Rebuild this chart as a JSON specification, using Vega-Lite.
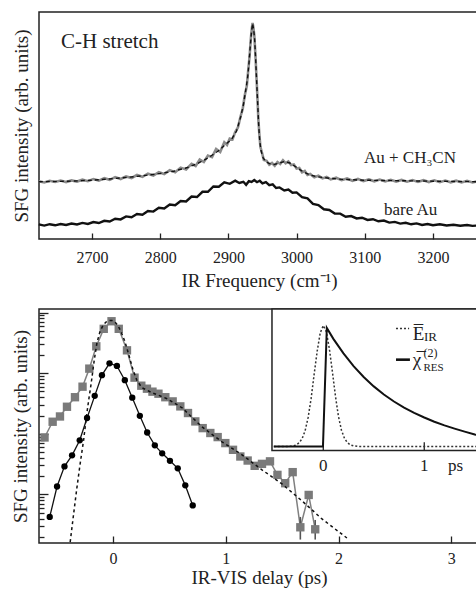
{
  "$schema": "https://vega.github.io/schema/vega-lite/v6.json",
  "background": "white",
  "padding": {"left": 10, "top": 11, "right": 0, "bottom": 0},
  "bounds": "flush",
  "spacing": 70,
  "config": {
    "font": "Liberation Serif",
    "view": {"stroke": "#222", "strokeWidth": 1.5},
    "axis": {
      "domain": false, "grid": false,
      "labelFont": "Liberation Serif", "titleFont": "Liberation Serif",
      "labelFontSize": 16, "titleFontSize": 19, "titleFontWeight": "normal",
      "labelColor": "#222", "titleColor": "#222", "tickColor": "#222", "tickWidth": 1.3
    },
    "text": {"font": "Liberation Serif", "color": "#222"}
  },
  "datasets": {
    "au_ch3cn": [
      {"freq":2622,"sfg":57.8},{"freq":2630,"sfg":56.6},{"freq":2638,"sfg":58.2},{"freq":2646,"sfg":57.0},{"freq":2654,"sfg":58.4},{"freq":2662,"sfg":56.9},{"freq":2670,"sfg":58.6},{"freq":2678,"sfg":57.4},{"freq":2686,"sfg":59.3},{"freq":2694,"sfg":57.8},{"freq":2702,"sfg":59.9},{"freq":2710,"sfg":58.4},{"freq":2718,"sfg":60.8},{"freq":2726,"sfg":59.2},{"freq":2734,"sfg":61.9},{"freq":2742,"sfg":60.0},{"freq":2750,"sfg":62.6},{"freq":2758,"sfg":61.0},{"freq":2766,"sfg":64.0},{"freq":2774,"sfg":62.2},{"freq":2782,"sfg":65.3},{"freq":2790,"sfg":63.4},{"freq":2798,"sfg":66.8},{"freq":2806,"sfg":65.0},{"freq":2814,"sfg":68.9},{"freq":2822,"sfg":66.8},{"freq":2830,"sfg":71.4},{"freq":2838,"sfg":69.6},{"freq":2846,"sfg":75.2},{"freq":2852,"sfg":73.0},{"freq":2858,"sfg":79.5},{"freq":2864,"sfg":77.0},{"freq":2870,"sfg":83.5},{"freq":2876,"sfg":81.8},{"freq":2882,"sfg":90.0},{"freq":2888,"sfg":87.0},{"freq":2894,"sfg":96.8},{"freq":2898,"sfg":94.0},{"freq":2902,"sfg":100.5},{"freq":2906,"sfg":99.6},{"freq":2910,"sfg":107.0},{"freq":2914,"sfg":111.5},{"freq":2918,"sfg":123},{"freq":2921,"sfg":130},{"freq":2924,"sfg":143.5},{"freq":2927,"sfg":153},{"freq":2929,"sfg":168},{"freq":2931,"sfg":182},{"freq":2933,"sfg":201},{"freq":2934.5,"sfg":211},{"freq":2935.5,"sfg":216},{"freq":2936.5,"sfg":212},{"freq":2938,"sfg":204},{"freq":2939.5,"sfg":186},{"freq":2941,"sfg":165},{"freq":2942.5,"sfg":143},{"freq":2944,"sfg":119},{"freq":2945.5,"sfg":104},{"freq":2947,"sfg":92},{"freq":2949,"sfg":87},{"freq":2952,"sfg":79},{"freq":2956,"sfg":78.2},{"freq":2960,"sfg":74.2},{"freq":2964,"sfg":76.0},{"freq":2968,"sfg":73.2},{"freq":2972,"sfg":77.0},{"freq":2976,"sfg":75.0},{"freq":2980,"sfg":78.8},{"freq":2984,"sfg":75.8},{"freq":2988,"sfg":77.5},{"freq":2992,"sfg":74.0},{"freq":2996,"sfg":74.6},{"freq":3000,"sfg":70.4},{"freq":3004,"sfg":71.0},{"freq":3008,"sfg":66.7},{"freq":3012,"sfg":68.0},{"freq":3016,"sfg":64.0},{"freq":3020,"sfg":65.0},{"freq":3026,"sfg":61.8},{"freq":3032,"sfg":63.2},{"freq":3038,"sfg":60.6},{"freq":3044,"sfg":62.0},{"freq":3050,"sfg":59.6},{"freq":3058,"sfg":61.3},{"freq":3066,"sfg":58.8},{"freq":3074,"sfg":60.5},{"freq":3082,"sfg":58.2},{"freq":3090,"sfg":60.0},{"freq":3098,"sfg":57.9},{"freq":3106,"sfg":59.6},{"freq":3114,"sfg":57.7},{"freq":3122,"sfg":59.5},{"freq":3130,"sfg":57.6},{"freq":3138,"sfg":59.2},{"freq":3146,"sfg":57.4},{"freq":3154,"sfg":59.1},{"freq":3162,"sfg":57.3},{"freq":3170,"sfg":58.9},{"freq":3178,"sfg":57.0},{"freq":3186,"sfg":58.8},{"freq":3194,"sfg":56.9},{"freq":3202,"sfg":58.7},{"freq":3210,"sfg":56.8},{"freq":3218,"sfg":58.5},{"freq":3226,"sfg":56.7},{"freq":3234,"sfg":58.3},{"freq":3242,"sfg":56.6},{"freq":3250,"sfg":58.2},{"freq":3258,"sfg":56.6},{"freq":3266,"sfg":57.8}
    ],
    "au_ch3cn_fit": [
      {"freq":2622,"sfg":57.3},{"freq":2650,"sfg":57.6},{"freq":2675,"sfg":58},{"freq":2700,"sfg":58.8},{"freq":2725,"sfg":60},{"freq":2750,"sfg":61.5},{"freq":2775,"sfg":63.3},{"freq":2800,"sfg":65.5},{"freq":2820,"sfg":67.8},{"freq":2840,"sfg":71.5},{"freq":2855,"sfg":75.5},{"freq":2870,"sfg":81},{"freq":2885,"sfg":88},{"freq":2895,"sfg":94},{"freq":2905,"sfg":100},{"freq":2912,"sfg":108},{"freq":2918,"sfg":122},{"freq":2922,"sfg":134},{"freq":2925,"sfg":147},{"freq":2928,"sfg":160},{"freq":2930,"sfg":174},{"freq":2932,"sfg":192},{"freq":2934,"sfg":208},{"freq":2935.5,"sfg":215.5},{"freq":2937,"sfg":210},{"freq":2938.5,"sfg":200},{"freq":2940,"sfg":180},{"freq":2941.5,"sfg":157},{"freq":2943,"sfg":135},{"freq":2944.5,"sfg":113},{"freq":2946,"sfg":98},{"freq":2948,"sfg":88},{"freq":2951,"sfg":81},{"freq":2955,"sfg":77.5},{"freq":2960,"sfg":75.5},{"freq":2967,"sfg":74.5},{"freq":2975,"sfg":76},{"freq":2982,"sfg":77.5},{"freq":2990,"sfg":76},{"freq":2998,"sfg":72.5},{"freq":3009,"sfg":67.5},{"freq":3020,"sfg":64},{"freq":3030,"sfg":62.3},{"freq":3048,"sfg":60.7},{"freq":3070,"sfg":59.5},{"freq":3100,"sfg":58.8},{"freq":3150,"sfg":58.3},{"freq":3200,"sfg":57.8},{"freq":3266,"sfg":57.3}
    ],
    "bare_au": [
      {"freq":2622,"sfg":14.6},{"freq":2630,"sfg":13.4},{"freq":2638,"sfg":14.8},{"freq":2646,"sfg":13.7},{"freq":2654,"sfg":15.0},{"freq":2662,"sfg":14.0},{"freq":2670,"sfg":15.4},{"freq":2678,"sfg":14.5},{"freq":2686,"sfg":16.1},{"freq":2694,"sfg":15.0},{"freq":2702,"sfg":16.9},{"freq":2710,"sfg":16.0},{"freq":2718,"sfg":18.2},{"freq":2726,"sfg":17.5},{"freq":2734,"sfg":20.3},{"freq":2742,"sfg":19.6},{"freq":2750,"sfg":22.6},{"freq":2758,"sfg":21.8},{"freq":2766,"sfg":25.0},{"freq":2774,"sfg":24.3},{"freq":2782,"sfg":28.0},{"freq":2790,"sfg":27.4},{"freq":2798,"sfg":31.2},{"freq":2806,"sfg":30.6},{"freq":2814,"sfg":34.5},{"freq":2822,"sfg":33.7},{"freq":2830,"sfg":38.0},{"freq":2838,"sfg":37.6},{"freq":2846,"sfg":42.5},{"freq":2854,"sfg":42.0},{"freq":2862,"sfg":47.2},{"freq":2870,"sfg":47.2},{"freq":2878,"sfg":52.5},{"freq":2886,"sfg":52.2},{"freq":2894,"sfg":56.6},{"freq":2902,"sfg":55.2},{"freq":2910,"sfg":58.4},{"freq":2916,"sfg":56.0},{"freq":2922,"sfg":57.2},{"freq":2926,"sfg":54.2},{"freq":2930,"sfg":57.8},{"freq":2934,"sfg":57.0},{"freq":2938,"sfg":58.9},{"freq":2942,"sfg":56.8},{"freq":2946,"sfg":58.2},{"freq":2950,"sfg":55.6},{"freq":2955,"sfg":56.8},{"freq":2960,"sfg":53.8},{"freq":2965,"sfg":54.6},{"freq":2970,"sfg":51.0},{"freq":2975,"sfg":51.6},{"freq":2982,"sfg":48.6},{"freq":2988,"sfg":49.4},{"freq":2994,"sfg":46.2},{"freq":3000,"sfg":46.6},{"freq":3008,"sfg":41.8},{"freq":3016,"sfg":40.6},{"freq":3024,"sfg":35.2},{"freq":3032,"sfg":34.0},{"freq":3040,"sfg":29.7},{"freq":3048,"sfg":29.0},{"freq":3056,"sfg":25.4},{"freq":3064,"sfg":25.4},{"freq":3072,"sfg":22.3},{"freq":3080,"sfg":22.9},{"freq":3088,"sfg":20.6},{"freq":3096,"sfg":21.3},{"freq":3104,"sfg":19.1},{"freq":3112,"sfg":19.8},{"freq":3120,"sfg":17.7},{"freq":3128,"sfg":18.4},{"freq":3136,"sfg":16.4},{"freq":3144,"sfg":17.1},{"freq":3152,"sfg":15.4},{"freq":3160,"sfg":16.2},{"freq":3168,"sfg":14.7},{"freq":3176,"sfg":15.6},{"freq":3184,"sfg":14.1},{"freq":3192,"sfg":15.0},{"freq":3200,"sfg":13.8},{"freq":3210,"sfg":14.7},{"freq":3220,"sfg":13.5},{"freq":3230,"sfg":14.3},{"freq":3240,"sfg":13.3},{"freq":3250,"sfg":14.0},{"freq":3258,"sfg":13.1},{"freq":3266,"sfg":13.6}
    ],
    "delay_ch3cn": [
      {"delay":-0.607,"sfg":8.69},{"delay":-0.535,"sfg":15.8},{"delay":-0.470,"sfg":19.3},{"delay":-0.408,"sfg":27.9},{"delay":-0.337,"sfg":40.1},{"delay":-0.270,"sfg":59.8},{"delay":-0.210,"sfg":118.7},{"delay":-0.148,"sfg":277},{"delay":-0.082,"sfg":538},{"delay":-0.013,"sfg":718},{"delay":0.051,"sfg":538},{"delay":0.124,"sfg":238},{"delay":0.191,"sfg":84.3},{"delay":0.251,"sfg":62.1},{"delay":0.301,"sfg":55.4},{"delay":0.350,"sfg":49.5},{"delay":0.403,"sfg":45.8},{"delay":0.464,"sfg":40.1},{"delay":0.529,"sfg":34.2},{"delay":0.597,"sfg":28.3},{"delay":0.665,"sfg":22.0},{"delay":0.730,"sfg":16.0},{"delay":0.795,"sfg":12.4},{"delay":0.863,"sfg":10.3},{"delay":0.928,"sfg":8.82},{"delay":0.996,"sfg":7.02},{"delay":1.064,"sfg":5.44},{"delay":1.129,"sfg":4.22},{"delay":1.194,"sfg":3.62},{"delay":1.256,"sfg":2.96},{"delay":1.321,"sfg":3.19},{"delay":1.392,"sfg":3.51},{"delay":1.458,"sfg":2.10},{"delay":1.527,"sfg":1.53},{"delay":1.593,"sfg":2.33},{"delay":1.661,"sfg":0.287,"lo":0.180,"hi":0.425},{"delay":1.735,"sfg":0.98},{"delay":1.793,"sfg":0.266,"lo":0.180,"hi":0.379}
    ],
    "delay_bare": [
      {"delay":-0.561,"sfg":0.425},{"delay":-0.496,"sfg":1.35},{"delay":-0.430,"sfg":2.90},{"delay":-0.363,"sfg":4.41},{"delay":-0.295,"sfg":7.81},{"delay":-0.230,"sfg":18.2},{"delay":-0.162,"sfg":42.2},{"delay":-0.098,"sfg":92.7},{"delay":-0.031,"sfg":145},{"delay":0.035,"sfg":131.5},{"delay":0.105,"sfg":76.6},{"delay":0.171,"sfg":39.4},{"delay":0.238,"sfg":19.8},{"delay":0.303,"sfg":10.5},{"delay":0.371,"sfg":6.45},{"delay":0.436,"sfg":4.76},{"delay":0.505,"sfg":3.58},{"delay":0.574,"sfg":2.69},{"delay":0.641,"sfg":1.41},{"delay":0.707,"sfg":0.658}
    ],
    "delay_fit": [
      {"delay":-0.386,"sfg":0.1305},{"delay":-0.348,"sfg":0.494},{"delay":-0.319,"sfg":1.33},{"delay":-0.290,"sfg":3.32},{"delay":-0.260,"sfg":7.96},{"delay":-0.237,"sfg":18.4},{"delay":-0.215,"sfg":36.5},{"delay":-0.195,"sfg":64.5},{"delay":-0.168,"sfg":155},{"delay":-0.142,"sfg":319},{"delay":-0.115,"sfg":485},{"delay":-0.089,"sfg":610},{"delay":-0.062,"sfg":697},{"delay":-0.035,"sfg":738},{"delay":-0.009,"sfg":738},{"delay":0.018,"sfg":697},{"delay":0.044,"sfg":610},{"delay":0.071,"sfg":485},{"delay":0.106,"sfg":332},{"delay":0.142,"sfg":195},{"delay":0.177,"sfg":114},{"delay":0.213,"sfg":75.2},{"delay":0.257,"sfg":57.5},{"delay":0.346,"sfg":47.6},{"delay":0.479,"sfg":37.9},{"delay":0.612,"sfg":26.9},{"delay":0.789,"sfg":13.0},{"delay":0.966,"sfg":7.38},{"delay":1.144,"sfg":4.50},{"delay":1.321,"sfg":2.54},{"delay":1.498,"sfg":1.49},{"delay":1.676,"sfg":0.781},{"delay":1.853,"sfg":0.394},{"delay":2.074,"sfg":0.191}
    ],
    "inset_eir": [
      {"t":-0.49,"amp":0},{"t":-0.35,"amp":0},{"t":-0.3,"amp":0.004},{"t":-0.27,"amp":0.012},{"t":-0.24,"amp":0.03},{"t":-0.21,"amp":0.064},{"t":-0.18,"amp":0.13},{"t":-0.15,"amp":0.24},{"t":-0.12,"amp":0.40},{"t":-0.09,"amp":0.60},{"t":-0.06,"amp":0.79},{"t":-0.03,"amp":0.94},{"t":0,"amp":1.0},{"t":0.03,"amp":0.95},{"t":0.06,"amp":0.81},{"t":0.09,"amp":0.62},{"t":0.12,"amp":0.42},{"t":0.15,"amp":0.25},{"t":0.18,"amp":0.135},{"t":0.21,"amp":0.067},{"t":0.24,"amp":0.031},{"t":0.27,"amp":0.013},{"t":0.3,"amp":0.005},{"t":0.35,"amp":0},{"t":1.54,"amp":0}
    ],
    "inset_chi": [
      {"t":-0.49,"amp":0},{"t":-0.003,"amp":0},{"t":0.035,"amp":0.98},{"t":0.1,"amp":0.89},{"t":0.2,"amp":0.77},{"t":0.3,"amp":0.665},{"t":0.4,"amp":0.575},{"t":0.5,"amp":0.497},{"t":0.6,"amp":0.43},{"t":0.7,"amp":0.372},{"t":0.8,"amp":0.322},{"t":0.9,"amp":0.278},{"t":1.0,"amp":0.24},{"t":1.1,"amp":0.205},{"t":1.2,"amp":0.175},{"t":1.3,"amp":0.148},{"t":1.4,"amp":0.123},{"t":1.5,"amp":0.1},{"t":1.54,"amp":0.093}
    ]
  },
  "vconcat": [
    {
      "width": 440,
      "height": 227,
      "encoding": {
        "x": {"field": "freq", "type": "quantitative",
              "scale": {"domain": [2622.3, 3267.5], "nice": false, "zero": false},
              "axis": {"title": "IR Frequency (cm\u207b\u00b9)", "values": [2700, 2800, 2900, 3000, 3100, 3200], "format": "d",
                       "tickSize": -6, "labelPadding": 16, "titlePadding": 6}},
        "y": {"field": "sfg", "type": "quantitative",
              "scale": {"domain": [0, 227], "nice": false, "zero": false},
              "axis": {"title": "SFG intensity (arb. units)", "labels": false, "ticks": false, "titlePadding": 8}}
      },
      "layer": [
        {"data": {"name": "au_ch3cn"}, "mark": {"type": "line", "color": "#8c8c8c", "strokeWidth": 2.6}},
        {"data": {"name": "au_ch3cn_fit"}, "mark": {"type": "line", "color": "#111", "strokeWidth": 1.4, "strokeDash": [4, 3]}},
        {"data": {"name": "bare_au"}, "mark": {"type": "line", "color": "#111", "strokeWidth": 2.4}},
        {"data": {"values": [{"freq": 2654.6, "sfg": 191, "label": "C-H stretch"}]},
         "mark": {"type": "text", "align": "left", "baseline": "alphabetic", "fontSize": 21},
         "encoding": {"text": {"field": "label"}}},
        {"data": {"values": [{"freq": 3098.8, "sfg": 76, "label": "Au + CH\u2083CN"}, {"freq": 3128.2, "sfg": 24, "label": "bare Au"}]},
         "mark": {"type": "text", "align": "left", "baseline": "alphabetic", "fontSize": 17},
         "encoding": {"text": {"field": "label"}}}
      ]
    },
    {
      "width": 440,
      "height": 234,
      "resolve": {"scale": {"x": "independent", "y": "independent"}, "axis": {"x": "independent", "y": "independent"}},
      "layer": [
        {
          "encoding": {
            "x": {"field": "delay", "type": "quantitative",
                  "scale": {"domain": [-0.656, 3.245], "nice": false, "zero": false},
                  "axis": {"title": "IR-VIS delay (ps)", "values": [0, 1, 2, 3], "tickSize": -7, "labelPadding": 14, "titlePadding": 2}},
            "y": {"field": "sfg", "type": "quantitative",
                  "scale": {"type": "log", "domain": [0.158, 1143], "nice": false},
                  "axis": {"title": "SFG intensity (arb. units)", "labels": false,
                           "values": [0.2,0.3,0.4,0.5,0.6,0.7,0.8,0.9,1,2,3,4,5,6,7,8,9,10,20,30,40,50,60,70,80,90,100,200,300,400,500,600,700,800,900,1000],
                           "tickSize": {"condition": {"test": "datum.value == 1 || datum.value == 10 || datum.value == 100 || datum.value == 1000", "value": -9}, "value": -5},
                           "titlePadding": 8}}
          },
          "layer": [
            {"data": {"name": "delay_ch3cn"}, "mark": {"type": "line", "color": "#808080", "strokeWidth": 1.5}},
            {"data": {"name": "delay_ch3cn"}, "transform": [{"filter": "isValid(datum.lo)"}],
             "mark": {"type": "rule", "color": "#555", "strokeWidth": 1.6},
             "encoding": {"y": {"field": "lo", "type": "quantitative"}, "y2": {"field": "hi"}}},
            {"data": {"name": "delay_ch3cn"}, "mark": {"type": "point", "shape": "square", "filled": true, "size": 70, "color": "#7a7a7a", "opacity": 1}},
            {"data": {"name": "delay_fit"}, "mark": {"type": "line", "color": "#111", "strokeWidth": 1.5, "strokeDash": [3, 3], "clip": true}},
            {"data": {"name": "delay_bare"}, "mark": {"type": "line", "color": "#111", "strokeWidth": 1.3}},
            {"data": {"name": "delay_bare"}, "mark": {"type": "point", "shape": "circle", "filled": true, "size": 40, "color": "#000", "opacity": 1}}
          ]
        },
        {
          "encoding": {
            "x": {"field": "t", "type": "quantitative",
                  "scale": {"domain": [-2.815, 1.542], "nice": false, "zero": false},
                  "axis": null},
            "y": {"field": "amp", "type": "quantitative",
                  "scale": {"domain": [-0.798, 1.137], "nice": false, "zero": false},
                  "axis": null}
          },
          "layer": [
            {"data": {"values": [{"t": -0.508, "t2": 1.6, "amp": -0.033, "amp2": 1.137}]},
             "mark": {"type": "rect", "fill": "white", "stroke": "#222", "strokeWidth": 1.5},
             "encoding": {"x2": {"field": "t2"}, "y2": {"field": "amp2"}}},
            {"data": {"values": [{"t": 0, "amp": -0.033, "amp2": 0.035}, {"t": 1, "amp": -0.033, "amp2": 0.035}]},
             "mark": {"type": "rule", "color": "#222", "strokeWidth": 1.3},
             "encoding": {"y2": {"field": "amp2"}}},
            {"data": {"name": "inset_eir"}, "mark": {"type": "line", "color": "#333", "strokeWidth": 1.5, "strokeDash": [2, 2]}},
            {"data": {"name": "inset_chi"}, "mark": {"type": "line", "color": "#111", "strokeWidth": 2}},
            {"data": {"values": [{"t": 0.72, "t2": 0.85, "amp": 0.975}]},
             "mark": {"type": "rule", "color": "#333", "strokeWidth": 1.5, "strokeDash": [2, 2]},
             "encoding": {"x2": {"field": "t2"}}},
            {"data": {"values": [{"t": 0.72, "t2": 0.858, "amp": 0.718}]},
             "mark": {"type": "rule", "color": "#111", "strokeWidth": 2.6},
             "encoding": {"x2": {"field": "t2"}}},
            {"data": {"values": [{"t": 0.887, "amp": 0.884, "label": "E\u0305"}, {"t": 0.887, "amp": 0.669, "label": "\u03c7\u0305"}]},
             "mark": {"type": "text", "align": "left", "baseline": "alphabetic", "fontSize": 19},
             "encoding": {"text": {"field": "label"}}},
            {"data": {"values": [{"t": 0.997, "amp": 0.869, "label": "IR"}]},
             "mark": {"type": "text", "align": "left", "baseline": "alphabetic", "fontSize": 13},
             "encoding": {"text": {"field": "label"}}},
            {"data": {"values": [{"t": 0.992, "amp": 0.742, "label": "(2)"}]},
             "mark": {"type": "text", "align": "left", "baseline": "alphabetic", "fontSize": 12},
             "encoding": {"text": {"field": "label"}}},
            {"data": {"values": [{"t": 0.992, "amp": 0.627, "label": "RES"}]},
             "mark": {"type": "text", "align": "left", "baseline": "alphabetic", "fontSize": 11},
             "encoding": {"text": {"field": "label"}}},
            {"data": {"values": [{"t": 0, "amp": -0.16, "label": "0"}, {"t": 1, "amp": -0.16, "label": "1"}, {"t": 1.309, "amp": -0.16, "label": "ps"}]},
             "mark": {"type": "text", "align": "center", "baseline": "middle", "fontSize": 17},
             "encoding": {"text": {"field": "label"}}}
          ]
        }
      ]
    }
  ]
}
